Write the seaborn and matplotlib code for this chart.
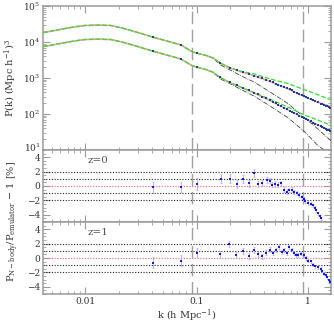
import matplotlib
matplotlib.use("Agg")
import matplotlib.pyplot as plt
import matplotlib.transforms as mtransforms
import seaborn as sns
from matplotlib.ticker import LogLocator, MultipleLocator, NullFormatter, FixedLocator, FixedFormatter

# power spectrum curves
k_curve = [0.0042, 0.006, 0.008, 0.01, 0.013, 0.017, 0.022, 0.03, 0.041, 0.055, 0.072, 0.09,
           0.1, 0.12, 0.14, 0.164, 0.2, 0.25, 0.33, 0.45, 0.65, 0.93, 1.2, 1.6]
p_emu_z0 = [18200, 22400, 26300, 28800, 29500, 28800, 24000, 18200, 13500, 10500, 8300, 5500,
            4900, 4270, 3630, 2570, 1900, 1480, 1150, 810, 510, 300, 215, 160]
p_hf_z0 = [18200, 22400, 26300, 28800, 29500, 28800, 24000, 18200, 13500, 10500, 8300, 5500,
           4900, 4270, 3630, 2570, 1920, 1530, 1300, 950, 710, 470, 350, 245]
p_lin_z0 = [18200, 22400, 26300, 28800, 29500, 28800, 24000, 18200, 13500, 10500, 8300, 5500,
            4900, 4270, 3550, 2290, 1660, 1150, 760, 417, 200, 79, 40, 18]
p_emu_z1 = [7400, 9100, 10700, 11700, 12000, 11700, 9800, 7400, 5500, 4270, 3390, 2240,
            2000, 1740, 1450, 1020, 740, 550, 380, 240, 132, 76, 51, 34]
p_hf_z1 = [7400, 9100, 10700, 11700, 12000, 11700, 9800, 7400, 5500, 4270, 3390, 2240,
           2000, 1740, 1450, 1020, 740, 555, 390, 262, 158, 93, 69, 49]
p_lin_z1 = [7400, 9100, 10700, 11700, 12000, 11700, 9800, 7400, 5500, 4270, 3390, 2240,
            2000, 1740, 1420, 933, 690, 480, 310, 170, 81, 32, 14, 7.2]

# N-body measurements
k_nbody = [0.041, 0.072, 0.1, 0.162, 0.197, 0.228, 0.26, 0.292, 0.324, 0.354, 0.387, 0.42, 0.45,
           0.48, 0.51, 0.54, 0.57, 0.61, 0.645, 0.68, 0.71, 0.75, 0.79, 0.83, 0.88, 0.91, 0.95,
           0.99, 1.05, 1.11, 1.16, 1.22, 1.29, 1.33, 1.38, 1.43, 1.48, 1.53, 1.58]
p_nbody_z0 = [13500, 8300, 4900, 2600, 1920, 1650, 1430, 1300, 1170, 1080, 980, 880, 810,
              750, 700, 655, 616, 566, 528, 480, 450, 415, 385, 357, 328, 312, 293,
              277, 256, 238, 224, 209, 195, 187, 179, 171, 164, 157, 151]
p_nbody_z1 = [5500, 3390, 2000, 1040, 750, 640, 525, 455, 390, 350, 305, 270, 240,
              216, 196, 178, 163, 147, 134, 123, 115, 106, 97, 90, 82, 78.5, 73.4,
              69, 63, 57.7, 54, 50, 45.7, 43.5, 41, 38.8, 36.7, 34.8, 33]

# residuals in percent
k_res_z0 = [0.041, 0.072, 0.1, 0.164, 0.198, 0.229, 0.26, 0.292, 0.324, 0.354, 0.387, 0.424,
            0.45, 0.476, 0.507, 0.54, 0.57, 0.61, 0.645, 0.677, 0.71, 0.75, 0.79, 0.83, 0.88,
            0.91, 0.945, 0.99, 1.05, 1.11, 1.15, 1.18, 1.23, 1.27, 1.29]
res_z0 = [-0.2, -0.13, 0.3, 1.0, 1.0, 0.3, 1.0, 0.4, 1.8, 0.27, 0.45, 0.8, 0.75, 0.2, 0.3,
          0.2, 0.4, -0.5, -0.8, -0.6, -0.5, -0.8, -1.0, -1.25, -1.5, -1.8, -2.1, -2.35,
          -2.45, -2.7, -3.0, -3.4, -3.8, -4.2, -4.5]
err_z0 = [0.8, 0.7, 0.8, 0.65, 0.6, 0.55, 0.55, 0.5, 0.5, 0.45, 0.45, 0.45, 0.4, 0.4, 0.4,
          0.35, 0.35, 0.35, 0.35, 0.3, 0.3, 0.3, 0.3, 0.3, 0.3, 0.25, 0.25, 0.25, 0.25,
          0.2, 0.2, 0.2, 0.2, 0.2, 0.2]
k_res_z1 = [0.041, 0.072, 0.1, 0.162, 0.196, 0.226, 0.258, 0.292, 0.324, 0.354, 0.385, 0.42,
            0.45, 0.48, 0.515, 0.545, 0.58, 0.61, 0.64, 0.67, 0.71, 0.75, 0.78, 0.81, 0.86,
            0.91, 0.95, 1.0, 1.06, 1.11, 1.16, 1.22, 1.29, 1.33, 1.38, 1.43, 1.48, 1.53, 1.58]
res_z1 = [-0.67, -0.35, 0.72, 0.53, 1.96, 0.4, 1.0, 0.27, 1.16, 0.5, 0.27, 0.76, 1.16, 0.72,
          1.07, 1.52, 0.85, 1.07, 0.72, 1.52, 1.16, 0.72, 0.4, 0.4, 0.62, 0.4, -0.04, -0.4,
          -0.48, -0.93, -1.15, -1.28, -1.5, -1.8, -2.17, -2.35, -2.7, -3.07, -3.4]
err_z1 = [0.75, 0.7, 0.65, 0.5, 0.45, 0.4, 0.45, 0.4, 0.4, 0.35, 0.35, 0.35, 0.35, 0.3, 0.3,
          0.3, 0.3, 0.3, 0.3, 0.3, 0.25, 0.25, 0.25, 0.25, 0.25, 0.25, 0.25, 0.2, 0.2, 0.2,
          0.2, 0.2, 0.2, 0.2, 0.2, 0.15, 0.15, 0.15, 0.15]

k_marks = [0.09, 0.9]

sns.set_style("ticks")
plt.rcParams['font.family'] = ['DejaVu Serif']
plt.rcParams['mathtext.fontset'] = 'dejavuserif'
plt.rcParams['font.size'] = 6.5

frame = '#9a9a9a'
txt = '#333333'

fig = plt.figure(figsize=(3.34, 3.25), dpi=100)
ax_p = fig.add_axes([0.129, 0.5385, 0.862, 0.443])
ax_r0 = fig.add_axes([0.129, 0.317, 0.862, 0.2215])
ax_r1 = fig.add_axes([0.129, 0.0954, 0.862, 0.2215])

for ax in (ax_p, ax_r0, ax_r1):
    ax.set_xscale('log')
    ax.set_xlim(0.0042, 1.6)
    for s in ax.spines.values():
        s.set_color(frame)
        s.set_linewidth(1.1)
    ax.tick_params(which='both', direction='in', top=True, right=True, color=frame,
                   labelcolor=txt, labelsize=6.5, pad=2)
    ax.tick_params(which='major', length=5, width=0.8)
    ax.tick_params(which='minor', length=2.5, width=0.6)
    for km in k_marks:
        ax.axvline(km, color='#a0a0a0', lw=1.0, dashes=(9, 4), zorder=1)

# top panel
ax_p.set_yscale('log')
ax_p.set_ylim(10, 1e5)
for p_lin, p_hf, p_emu, p_nb in ((p_lin_z0, p_hf_z0, p_emu_z0, p_nbody_z0),
                                 (p_lin_z1, p_hf_z1, p_emu_z1, p_nbody_z1)):
    sns.lineplot(x=k_curve, y=p_lin, ax=ax_p, color='#333333', lw=0.55,
                 linestyle='-.', estimator=None, sort=False, zorder=3)
    sns.lineplot(x=k_curve, y=p_emu, ax=ax_p, color='#f2a0a0', lw=1.2,
                 estimator=None, sort=False, zorder=3)
    sns.lineplot(x=k_curve, y=p_hf, ax=ax_p, color='#33dd33', lw=0.9,
                 linestyle='--', estimator=None, sort=False, zorder=4)
    sns.scatterplot(x=k_nbody, y=p_nb, ax=ax_p, color='#1f3d99', marker='s', s=4,
                    linewidth=0, zorder=5)
ax_p.yaxis.set_major_locator(FixedLocator([10, 100, 1000, 1e4, 1e5]))
ax_p.yaxis.set_major_formatter(FixedFormatter([r'$10^{1}$', r'$10^{2}$', r'$10^{3}$',
                                               r'$10^{4}$', r'$10^{5}$']))
ax_p.yaxis.set_minor_locator(LogLocator(base=10, subs=range(2, 10), numticks=20))
ax_p.yaxis.set_minor_formatter(NullFormatter())
ax_p.set_xticklabels([])
ax_p.xaxis.set_minor_formatter(NullFormatter())

# residual panels
for ax, kr, rr, er, lab in ((ax_r0, k_res_z0, res_z0, err_z0, 'z=0'),
                            (ax_r1, k_res_z1, res_z1, err_z1, 'z=1')):
    ax.set_ylim(-5, 5)
    for lv in (-2, -1, 1, 2):
        ax.axhline(lv, color='#222222', lw=0.8, ls=(0, (1, 1.5)), zorder=2)
    ax.axhline(0, color='#f08080', lw=0.9, ls=(0, (1, 1.2)), zorder=2)
    ax.errorbar(kr, rr, yerr=er, fmt='none', ecolor='#a8a8ff', elinewidth=0.6,
                capsize=1.0, capthick=0.5, zorder=3)
    sns.scatterplot(x=kr, y=rr, ax=ax, color='#1515ee', marker='s', s=3.5,
                    linewidth=0, zorder=4)
    ax.yaxis.set_major_locator(FixedLocator([-4, -2, 0, 2, 4]))
    ax.yaxis.set_minor_locator(MultipleLocator(0.5))
    ax.text(0.19, 0.86, lab, transform=ax.transAxes, ha='center', va='center',
            fontsize=7.5, color='#555555')
    ax.xaxis.set_minor_formatter(NullFormatter())

ax_r0.set_xticklabels([])
ax_r1.xaxis.set_major_locator(FixedLocator([0.01, 0.1, 1]))
ax_r1.xaxis.set_major_formatter(FixedFormatter(['0.01', '0.1', '1']))

ax_p.set_ylabel(r'P(k) (Mpc h$^{-1}$)$^3$', fontsize=7, color=txt, labelpad=3)
fig.text(0.04, 1 - 222 / 325, r'P$_{\rm N-body}$/P$_{\rm emulator}$ $-$ 1 [%]',
         rotation=90, ha='center', va='center', fontsize=7, color=txt)
fig.text(0.56, 1 - 316 / 325, r'k (h Mpc$^{-1}$)', ha='center', va='center',
         fontsize=7, color=txt)

# lift the lowest decade label a little so it clears the "4" below it
fig.canvas.draw()
lift = mtransforms.ScaledTranslation(0, 2.5 / 72, fig.dpi_scale_trans)
lowest = ax_p.get_yticklabels()[0]
lowest.set_transform(lowest.get_transform() + lift)

fig.savefig('out.png', dpi=100)
